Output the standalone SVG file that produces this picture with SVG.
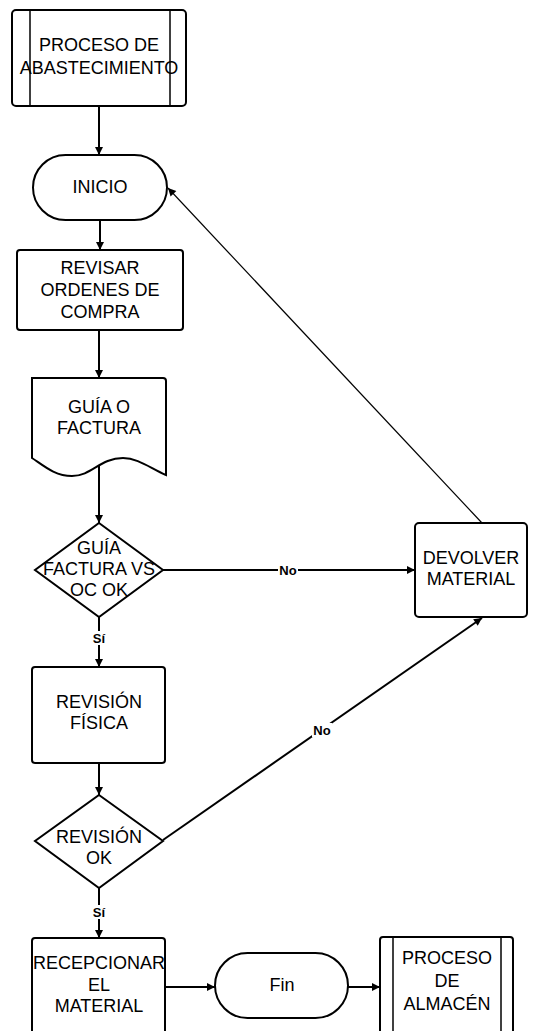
<svg xmlns="http://www.w3.org/2000/svg" width="539" height="1031" viewBox="0 0 539 1031">
  <style>
    .shape { fill: #ffffff; stroke: #000000; stroke-width: 2; }
    .inner { stroke: #000000; stroke-width: 1.5; fill: none; }
    .lbl { font-family: "Liberation Sans", Arial, sans-serif; font-size: 18px; fill: #000000; text-anchor: middle; dominant-baseline: central; }
    .edge { fill: none; stroke: #000000; stroke-width: 2; }
    .edge-thin { fill: none; stroke: #000000; stroke-width: 1.2; }
    .tag { font-family: "Liberation Sans", Arial, sans-serif; font-size: 13px; font-weight: bold; fill: #000000; text-anchor: middle; dominant-baseline: central; }
    .tag-bg { fill: #ffffff; stroke: none; }
  </style>
  <defs>
    <marker id="arrow" viewBox="0 0 10 10" refX="10" refY="5" markerUnits="userSpaceOnUse" markerWidth="9" markerHeight="8" orient="auto">
      <path d="M0,0 L10,5 L0,10 Z" fill="#000000"/>
    </marker>
  </defs>
  <rect width="539" height="1031" fill="#ffffff"/>

  <!-- connectors -->
  <g id="connectors">
    <line class="edge" x1="99" y1="106" x2="99" y2="155" marker-end="url(#arrow)"/>
    <line class="edge" x1="100" y1="220" x2="100" y2="250" marker-end="url(#arrow)"/>
    <line class="edge" x1="99" y1="330" x2="99" y2="378" marker-end="url(#arrow)"/>
    <line class="edge" x1="99" y1="466" x2="99" y2="523" marker-end="url(#arrow)"/>
    <line class="edge" x1="163" y1="570" x2="415" y2="570" marker-end="url(#arrow)"/>
    <line class="edge-thin" x1="482" y1="523" x2="168" y2="188" marker-end="url(#arrow)"/>
    <line class="edge" x1="99" y1="617" x2="99" y2="667" marker-end="url(#arrow)"/>
    <line class="edge" x1="99" y1="763" x2="99" y2="795" marker-end="url(#arrow)"/>
    <line class="edge" x1="163" y1="840" x2="482" y2="618" marker-end="url(#arrow)"/>
    <line class="edge" x1="99" y1="888" x2="99" y2="938" marker-end="url(#arrow)"/>
    <line class="edge" x1="165" y1="987" x2="215" y2="987" marker-end="url(#arrow)"/>
    <line class="edge" x1="348" y1="987" x2="380" y2="987" marker-end="url(#arrow)"/>

    <!-- edge labels -->
    <rect class="tag-bg" x="278" y="563" width="20" height="14"/>
    <text class="tag" x="288" y="570">No</text>
    <rect class="tag-bg" x="312" y="723" width="20" height="14"/>
    <text class="tag" x="322" y="730">No</text>
    <rect class="tag-bg" x="91" y="631" width="16" height="14"/>
    <text class="tag" x="99" y="638">Sí</text>
    <rect class="tag-bg" x="91" y="905" width="16" height="14"/>
    <text class="tag" x="99" y="912">Sí</text>
  </g>

  <!-- predefined process: supply -->
  <g id="proceso-abastecimiento">
    <rect class="shape" x="12" y="10" width="174" height="96" rx="4"/>
    <line class="inner" x1="30" y1="10" x2="30" y2="106"/>
    <line class="inner" x1="170" y1="10" x2="170" y2="106"/>
    <text class="lbl" x="99" y="45">PROCESO DE</text>
    <text class="lbl" x="99" y="68">ABASTECIMIENTO</text>
  </g>

  <!-- start terminator -->
  <g id="inicio">
    <rect class="shape" x="33" y="155" width="134" height="65" rx="32.5"/>
    <text class="lbl" x="100" y="187">INICIO</text>
  </g>

  <g id="revisar-ordenes">
    <rect class="shape" x="17" y="250" width="166" height="80" rx="3"/>
    <text class="lbl" x="100" y="268">REVISAR</text>
    <text class="lbl" x="100" y="290">ORDENES DE</text>
    <text class="lbl" x="100" y="312">COMPRA</text>
  </g>

  <!-- document shape -->
  <g id="guia-factura">
    <path class="shape" d="M32,458 V378 H163 Q166,378 166,381 V475 C150,468 138,458 123,458 C100,458 92,476 72,476 C55,476 44,466 32,458 Z"/>
    <text class="lbl" x="99" y="407">GUÍA O</text>
    <text class="lbl" x="99" y="428">FACTURA</text>
  </g>

  <g id="decision-guia">
    <path class="shape" d="M99,523 L163,570 L99,617 L35,570 Z"/>
    <text class="lbl" x="99" y="548">GUÍA</text>
    <text class="lbl" x="99" y="569">FACTURA VS</text>
    <text class="lbl" x="99" y="590">OC OK</text>
  </g>

  <g id="devolver-material">
    <rect class="shape" x="415" y="523" width="112" height="94" rx="4"/>
    <text class="lbl" x="471" y="558">DEVOLVER</text>
    <text class="lbl" x="471" y="579">MATERIAL</text>
  </g>

  <g id="revision-fisica">
    <rect class="shape" x="32" y="667" width="133" height="96" rx="3"/>
    <text class="lbl" x="99" y="702">REVISIÓN</text>
    <text class="lbl" x="99" y="723">FÍSICA</text>
  </g>

  <g id="decision-revision">
    <path class="shape" d="M99,795 L163,841 L99,888 L35,841 Z"/>
    <text class="lbl" x="99" y="837">REVISIÓN</text>
    <text class="lbl" x="99" y="858">OK</text>
  </g>

  <g id="recepcionar">
    <rect class="shape" x="32" y="938" width="133" height="100" rx="3"/>
    <text class="lbl" x="99" y="963">RECEPCIONAR</text>
    <text class="lbl" x="99" y="985">EL</text>
    <text class="lbl" x="99" y="1006">MATERIAL</text>
  </g>

  <!-- end terminator -->
  <g id="fin">
    <rect class="shape" x="215" y="953" width="133" height="65" rx="32.5"/>
    <text class="lbl" x="282" y="985">Fin</text>
  </g>

  <!-- predefined process: warehouse -->
  <g id="proceso-almacen">
    <rect class="shape" x="380" y="937" width="133" height="104" rx="3"/>
    <line class="inner" x1="393" y1="937" x2="393" y2="1041"/>
    <line class="inner" x1="501" y1="937" x2="501" y2="1041"/>
    <text class="lbl" x="447" y="958">PROCESO</text>
    <text class="lbl" x="447" y="981">DE</text>
    <text class="lbl" x="447" y="1004">ALMACÉN</text>
  </g>
</svg>
